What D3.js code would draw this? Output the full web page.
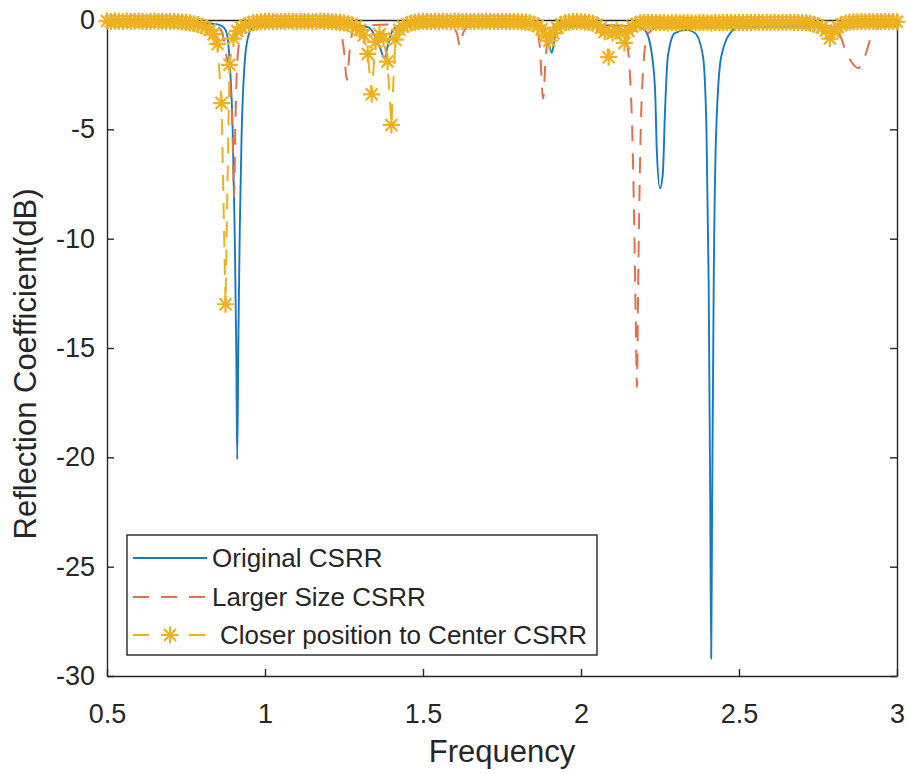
<!DOCTYPE html>
<html>
<head>
<meta charset="utf-8">
<script src="https://cdn.jsdelivr.net/npm/d3@7"></script>
<style>
  body { margin: 0; background: #fff; }
  svg { display: block; }
  text { font-family: "Liberation Sans", Arial, Helvetica, sans-serif; fill: #262626; }
</style>
</head>
<body>
<svg id="chart" width="907" height="774"></svg>
<script>
// ---- Measured reflection coefficient (dB) versus frequency (GHz) ----

// Original CSRR
const freqOriginal = [0.50,0.60,0.70,0.80,0.85,0.87,0.879,0.889,0.898,0.904,
  0.909,0.912,0.916,0.920,0.926,0.935,0.946,0.960,1.00,1.10,
  1.20,1.30,1.33,1.35,1.365,1.377,1.39,1.40,1.42,1.50,
  1.60,1.70,1.80,1.87,1.89,1.908,1.917,1.93,2.00,2.10,
  2.19,2.2025,2.218,2.234,2.240,2.250,2.259,2.266,2.275,2.297,
  2.335,2.361,2.386,2.397,2.404,2.409,2.412,2.415,2.420,2.428,
  2.444,2.48,2.50,2.60,2.70,2.80,2.90,3.00];
const s11Original = [-0.15,-0.15,-0.15,-0.15,-0.2,-0.35,-0.6,-2.1,-5.2,-9.7,
  -15.0,-20.1,-14.3,-9.7,-5.2,-2.1,-0.8,-0.37,-0.25,-0.2,
  -0.2,-0.25,-0.35,-0.8,-1.3,-1.75,-1.1,-0.6,-0.3,-0.2,
  -0.2,-0.2,-0.2,-0.3,-0.6,-1.5,-0.8,-0.35,-0.25,-0.25,
  -0.35,-0.46,-1.05,-3.05,-6.0,-7.7,-7.0,-4.1,-1.65,-0.6,
  -0.45,-0.6,-1.66,-5.0,-12.0,-22.0,-29.2,-22.0,-12.0,-5.0,
  -1.66,-0.46,-0.3,-0.28,-0.3,-0.35,-0.3,-0.3];

// Larger size CSRR
const freqLarger = [0.50,0.60,0.70,0.80,0.85,0.865,0.875,0.888,0.897,0.902,
  0.906,0.912,0.922,0.935,0.96,1.00,1.10,1.20,1.22,1.24,
  1.25,1.259,1.268,1.278,1.30,1.40,1.50,1.59,1.607,1.617,
  1.627,1.645,1.70,1.80,1.86,1.87,1.88,1.888,1.897,1.91,
  2.00,2.10,2.13,2.145,2.155,2.162,2.168,2.173,2.177,2.181,
  2.185,2.19,2.197,2.205,2.22,2.24,2.30,2.40,2.50,2.60,
  2.70,2.80,2.82,2.835,2.855,2.877,2.90,2.915,2.93,2.95,
  3.00];
const s11Larger = [-0.2,-0.2,-0.2,-0.2,-0.3,-0.6,-1.4,-2.7,-5.0,-8.1,
  -5.0,-2.0,-0.8,-0.4,-0.3,-0.25,-0.2,-0.2,-0.3,-0.6,
  -1.4,-2.75,-1.4,-0.5,-0.3,-0.2,-0.2,-0.3,-0.6,-1.2,
  -0.6,-0.3,-0.2,-0.2,-0.4,-1.3,-3.6,-1.8,-0.6,-0.35,
  -0.2,-0.25,-0.45,-1.0,-2.5,-5.0,-9.0,-13.5,-16.8,-12.0,
  -8.0,-4.5,-2.2,-1.0,-0.5,-0.35,-0.3,-0.25,-0.25,-0.25,
  -0.25,-0.3,-0.7,-1.3,-1.9,-2.2,-1.6,-0.9,-0.5,-0.3,
  -0.25];

// Closer position to center CSRR: uniform sweep 0.5–3 GHz, 12.5 MHz step
const sweepStart = 0.5, sweepStep = 0.0125;
const s11Closer = [
  -0.05,-0.07,-0.05,-0.06,-0.08,-0.05,-0.07,-0.06,-0.05,-0.07,
  -0.08,-0.06,-0.05,-0.07,-0.06,-0.08,-0.07,-0.06,-0.08,-0.09,
  -0.11,-0.14,-0.17,-0.21,-0.27,-0.34,-0.45,-0.65,-1.10,-3.80,
  -13.0,-2.05,-0.85,-0.50,-0.34,-0.25,-0.18,-0.13,-0.10,-0.08,
  -0.07,-0.06,-0.07,-0.08,-0.06,-0.07,-0.05,-0.07,-0.08,-0.06,
  -0.07,-0.06,-0.08,-0.07,-0.05,-0.07,-0.06,-0.08,-0.09,-0.11,
  -0.14,-0.17,-0.22,-0.30,-0.45,-0.70,-1.55,-3.40,-1.00,-0.65,
  -0.85,-1.90,-4.80,-0.90,-0.45,-0.30,-0.20,-0.14,-0.10,-0.08,
  -0.06,-0.07,-0.08,-0.06,-0.07,-0.05,-0.07,-0.08,-0.06,-0.07,
  -0.07,-0.06,-0.08,-0.07,-0.06,-0.07,-0.05,-0.07,-0.08,-0.07,
  -0.06,-0.07,-0.07,-0.08,-0.07,-0.08,-0.10,-0.13,-0.18,-0.26,
  -0.42,-0.70,-0.95,-0.60,-0.35,-0.20,-0.13,-0.09,-0.07,-0.07,
  -0.08,-0.09,-0.11,-0.15,-0.22,-0.35,-0.55,-1.70,-0.60,-0.45,
  -0.60,-1.05,-0.50,-0.30,-0.18,-0.13,-0.11,-0.10,-0.11,-0.12,
  -0.13,-0.12,-0.14,-0.13,-0.12,-0.14,-0.13,-0.12,-0.13,-0.14,
  -0.13,-0.12,-0.13,-0.14,-0.12,-0.13,-0.12,-0.11,-0.12,-0.13,
  -0.12,-0.11,-0.12,-0.11,-0.10,-0.11,-0.12,-0.10,-0.11,-0.10,
  -0.11,-0.10,-0.11,-0.10,-0.11,-0.11,-0.12,-0.13,-0.15,-0.19,
  -0.25,-0.32,-0.48,-0.85,-0.55,-0.32,-0.20,-0.14,-0.10,-0.08,
  -0.08,-0.07,-0.08,-0.07,-0.08,-0.07,-0.08,-0.07,-0.08,-0.07,
  -0.08];

const seriesNames = ["Original CSRR", "Larger Size CSRR", "Closer position to Center CSRR"];
const xTicks = [0.5, 1, 1.5, 2, 2.5, 3];
const yTicks = [0, -5, -10, -15, -20, -25, -30];
const xLabel = "Frequency";
const yLabel = "Reflection Coefficient(dB)";

// ---- Layout ----
const plot = { left: 107, right: 897, top: 20, bottom: 676 };
const axisColor = "#262626";
const colors = ["#1579C4", "#E0714C", "#EDB120"];

const svg = d3.select("#chart");
const x = d3.scaleLinear().domain([0.5, 3]).range([plot.left, plot.right]);
const y = d3.scaleLinear().domain([-30, 0]).range([plot.bottom, plot.top]);

const freqCloser = d3.range(0, s11Closer.length).map(i => +(sweepStart + i * sweepStep).toFixed(4));

const zip = (fs, vs) => fs.map((f, i) => ({ f, v: vs[i] }));
const dataOriginal = zip(freqOriginal, s11Original);
const dataLarger = zip(freqLarger, s11Larger);
const dataCloser = zip(freqCloser, s11Closer);

// Plain hyphen-minus tick labels
const plainLabel = d => String(d);

// ---- Axes (box with inward ticks on all four sides) ----
function styleAxis(g) {
  g.selectAll(".domain").attr("stroke", axisColor).attr("stroke-width", 1.4);
  g.selectAll(".tick line").attr("stroke", axisColor).attr("stroke-width", 1.4);
  g.selectAll(".tick text").attr("fill", axisColor)
    .style("font-family", '"Liberation Sans", Arial, sans-serif')
    .style("font-size", "27px");
}

svg.append("g")
  .attr("transform", `translate(0,${plot.bottom})`)
  .call(d3.axisBottom(x).tickValues(xTicks).tickFormat(plainLabel).tickSizeInner(-7).tickSizeOuter(0).tickPadding(28))
  .call(styleAxis);
svg.append("g")
  .attr("transform", `translate(0,${plot.top})`)
  .call(d3.axisTop(x).tickValues(xTicks).tickFormat("").tickSizeInner(-7).tickSizeOuter(0))
  .call(styleAxis);
svg.append("g")
  .attr("transform", `translate(${plot.left},0)`)
  .call(d3.axisLeft(y).tickValues(yTicks).tickFormat(plainLabel).tickSizeInner(-7).tickSizeOuter(0).tickPadding(12))
  .call(styleAxis);
svg.append("g")
  .attr("transform", `translate(${plot.right},0)`)
  .call(d3.axisRight(y).tickValues(yTicks).tickFormat("").tickSizeInner(-7).tickSizeOuter(0))
  .call(styleAxis);

// Axis titles
svg.append("text")
  .attr("x", (plot.left + plot.right) / 2).attr("y", 762)
  .attr("text-anchor", "middle").style("font-size", "31px")
  .text(xLabel);
svg.append("text")
  .attr("transform", "translate(36,364) rotate(-90)")
  .attr("text-anchor", "middle").style("font-size", "31px")
  .text(yLabel);

// ---- Series ----
const line = d3.line()
  .x(d => x(d.f)).y(d => y(d.v))
  .curve(d3.curveMonotoneX);

const dashPattern = "16,12";
const asterisk = "M-8.5,0H8.5M0,-8.5V8.5M-6,-6L6,6M-6,6L6,-6";

svg.append("path").datum(dataOriginal)
  .attr("d", line).attr("fill", "none")
  .attr("stroke", colors[0]).attr("stroke-width", 1.9);

svg.append("path").datum(dataLarger)
  .attr("d", line).attr("fill", "none")
  .attr("stroke", colors[1]).attr("stroke-width", 2)
  .attr("stroke-dasharray", dashPattern);

svg.append("path").datum(dataCloser)
  .attr("d", d3.line().x(d => x(d.f)).y(d => y(d.v))).attr("fill", "none")
  .attr("stroke", colors[2]).attr("stroke-width", 2)
  .attr("stroke-dasharray", dashPattern);

svg.append("g").selectAll("path").data(dataCloser).join("path")
  .attr("transform", d => `translate(${x(d.f)},${y(d.v)})`)
  .attr("d", asterisk).attr("fill", "none")
  .attr("stroke", colors[2]).attr("stroke-width", 2.2);

// ---- Legend ----
const legend = svg.append("g").attr("transform", "translate(127,535)");
legend.append("rect")
  .attr("width", 470).attr("height", 120)
  .attr("fill", "#fff").attr("stroke", axisColor).attr("stroke-width", 1.4);

const rowY = [23, 62, 100];
const textX = [85, 85, 93];
seriesNames.forEach((name, i) => {
  const row = legend.append("g").attr("transform", `translate(0,${rowY[i]})`);
  const seg = row.append("line")
    .attr("x1", 6).attr("x2", 80).attr("y1", 0).attr("y2", 0)
    .attr("stroke", colors[i]).attr("stroke-width", 2);
  if (i > 0) seg.attr("stroke-dasharray", dashPattern);
  if (i === 2) {
    row.append("path").attr("transform", "translate(43,0)")
      .attr("d", asterisk).attr("fill", "none")
      .attr("stroke", colors[2]).attr("stroke-width", 2);
  }
  row.append("text")
    .attr("x", textX[i]).attr("y", 9.3)
    .style("font-size", "26px")
    .text(name);
});
</script>
</body>
</html>
